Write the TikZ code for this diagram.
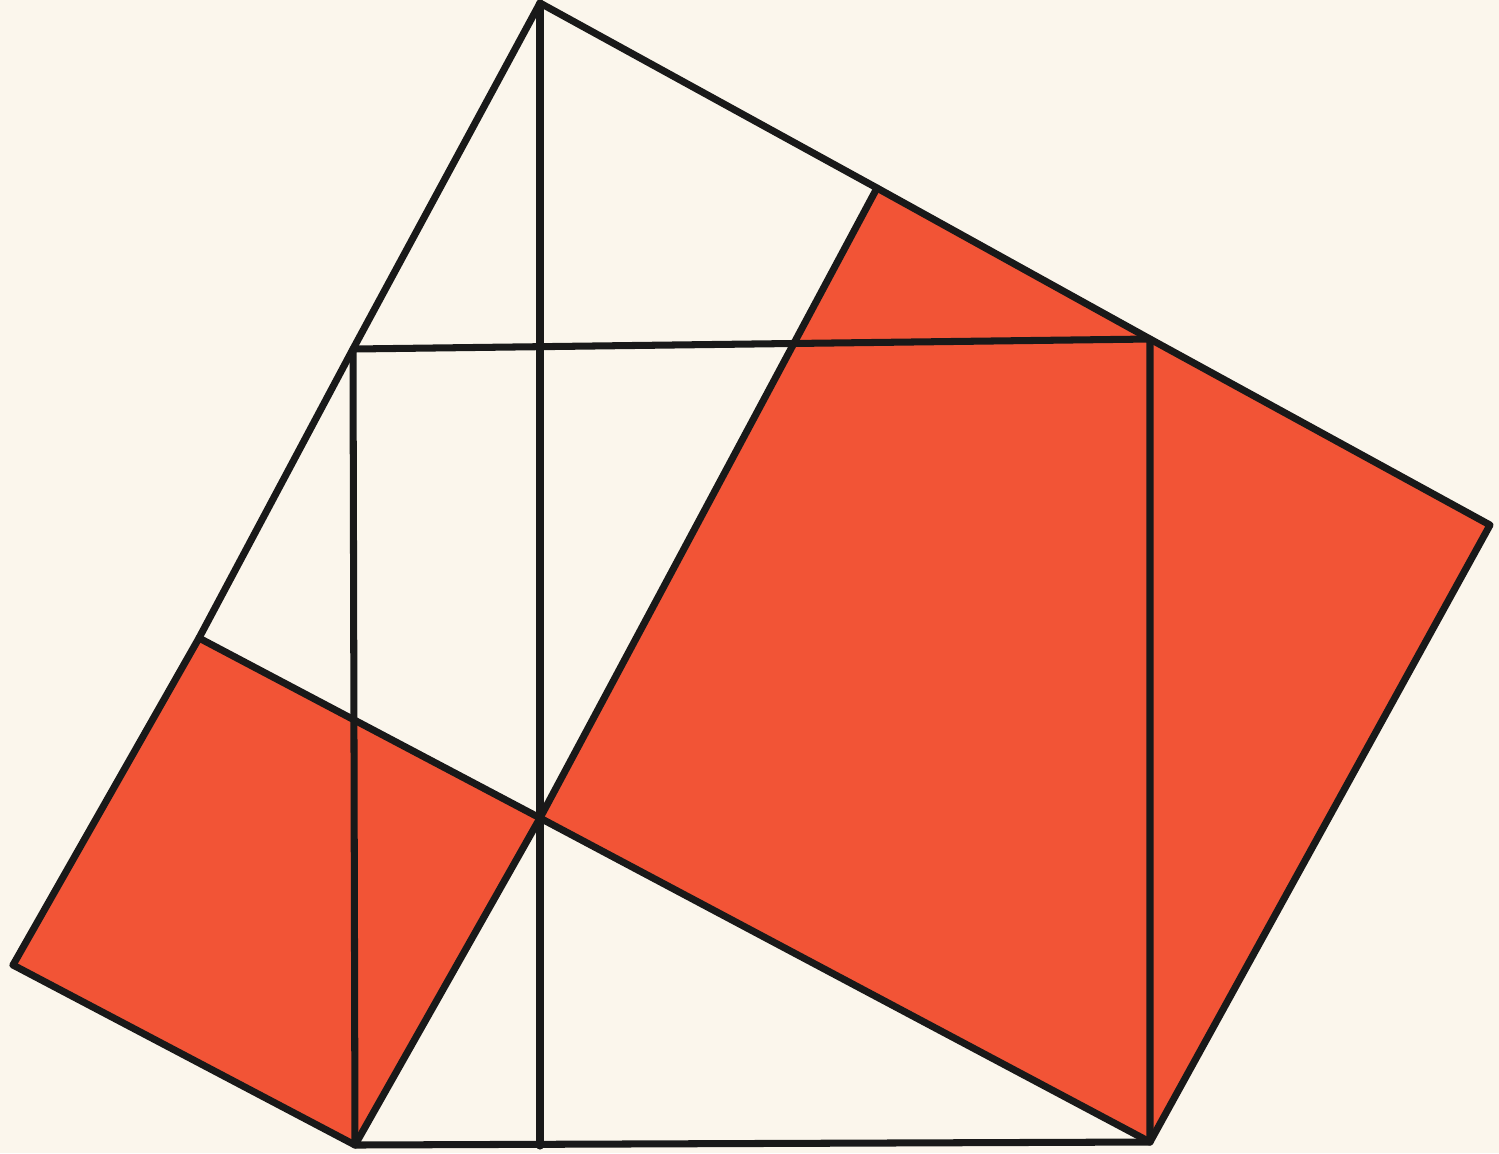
\documentclass[tikz,border=0pt]{standalone}
\begin{document}
\begin{tikzpicture}[x=0.01cm,y=-0.01cm,
  edge/.style={draw=black!90,line width=2pt,line cap=round,line join=round},
  redsq/.style={fill=redfill}]
\definecolor{bgcream}{RGB}{251,246,236}
\definecolor{redfill}{RGB}{242,84,54}
\fill[bgcream] (0,0) rectangle (1499,1153);
\useasboundingbox (0,0) rectangle (1499,1153);
% key points (pixel coordinates)
\coordinate (T) at (540,3);
\coordinate (A) at (877,188);
\coordinate (R) at (1490,525);
\coordinate (Q) at (1150,1142);
\coordinate (P) at (540,818);
\coordinate (S) at (199,638);
\coordinate (L) at (13,965);
\coordinate (M) at (355,1145);
\coordinate (U1) at (353,349);
\coordinate (U2) at (1150,339);
\coordinate (V) at (540,1146);
% red squares
\fill[redsq] (S) -- (P) -- (M) -- (L) -- cycle;
\fill[redsq] (A) -- (R) -- (Q) -- (P) -- cycle;
% outer edges
\draw[edge] (L) -- (S) -- (U1) -- (T) -- (A) -- (U2) -- (R) -- (Q);
\draw[edge] (L) -- (M);
% inner edges
\draw[edge] (S) -- (P) -- (Q);
\draw[edge] (A) -- (P) -- (M);
% upright square
\draw[edge] (U1) -- (U2) -- (Q) -- (M) -- cycle;
% vertical line
\draw[edge] (T) -- (P) -- (V);
\end{tikzpicture}
\end{document}
